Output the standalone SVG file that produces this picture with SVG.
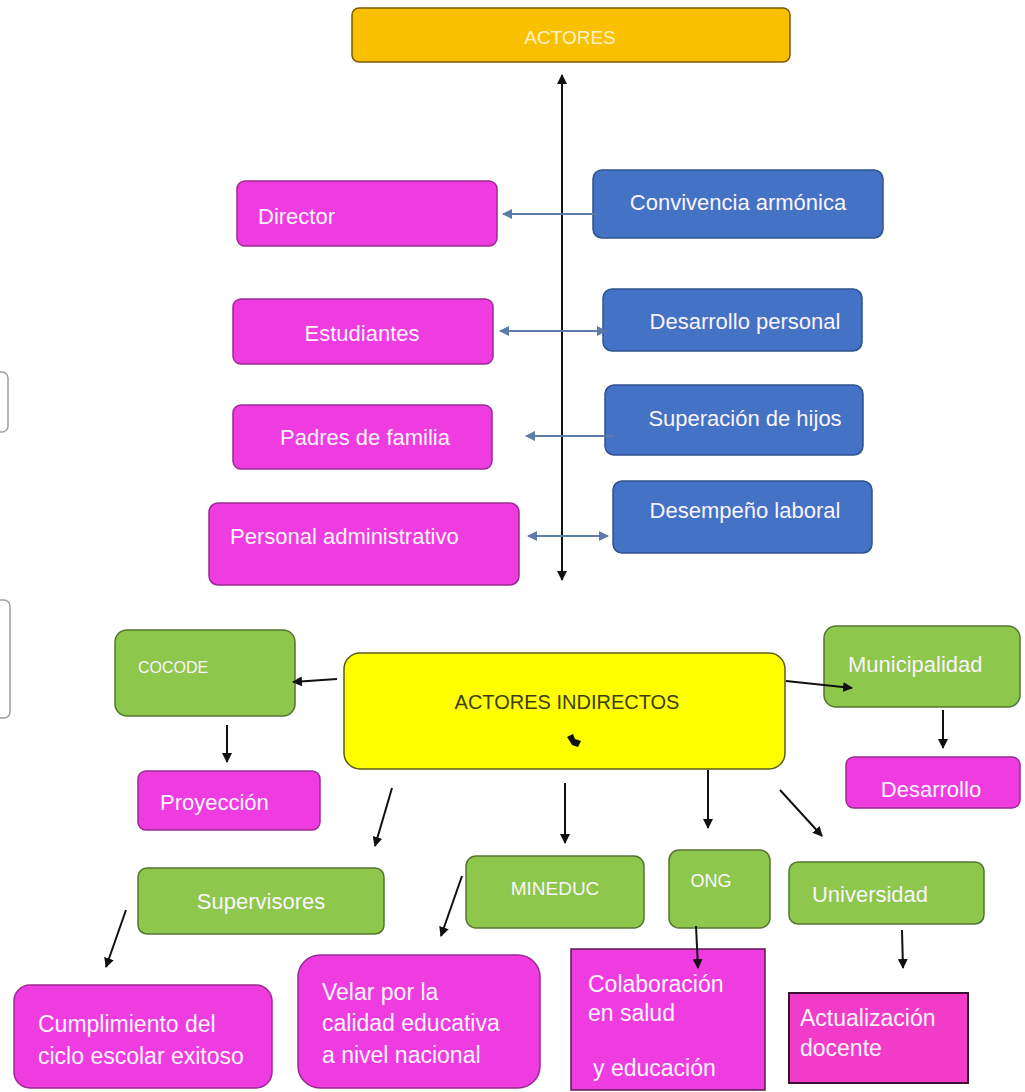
<svg xmlns="http://www.w3.org/2000/svg" width="1025" height="1092" viewBox="0 0 1025 1092">
<style>
text{font-family:"Liberation Sans",Arial,sans-serif;font-size:22px;fill:#fbf4ff}
.c{text-anchor:middle}
.s{font-size:23px}
.mag{fill:#ef3ce0;stroke:#9a2a93;stroke-width:1.5}
.blue{fill:#4472c4;stroke:#2f528f;stroke-width:1.5}
.grn{fill:#8dc74b;stroke:#55752f;stroke-width:1.5}
.k{stroke:#111;stroke-width:2;fill:none}
.b{stroke:#5b7ba8;stroke-width:2;fill:none}
.ghost{fill:#fff;stroke:#9aa0a6;stroke-width:1.5}
</style>
<defs>
<marker id="ak" viewBox="0 0 10 10" refX="9" refY="5" markerWidth="5" markerHeight="5" orient="auto-start-reverse"><path d="M0,0L10,5L0,10z" fill="#111"/></marker>
<marker id="ab" viewBox="0 0 10 10" refX="9" refY="5" markerWidth="5" markerHeight="5" orient="auto-start-reverse"><path d="M0,0L10,5L0,10z" fill="#5b7ba8"/></marker>
</defs>
<rect width="1025" height="1092" fill="#fff"/>

<g id="edge-boxes">
<rect class="ghost" x="-40" y="372" width="48" height="60" rx="6"/>
<rect class="ghost" x="-40" y="600" width="50" height="118" rx="6"/>
</g>

<g id="actores">
<rect x="352" y="8" width="438" height="54" rx="7" fill="#f9c000" stroke="#7a5a00" stroke-width="1.5"/>
<text class="c" x="570" y="44" style="font-size:19px;fill:#fff3c4">ACTORES</text>
</g>

<g id="director"><rect class="mag" x="237" y="181" width="260" height="65" rx="8"/><text x="258" y="224">Director</text></g>
<g id="convivencia"><rect class="blue" x="593" y="170" width="290" height="68" rx="9"/><text class="c" x="738" y="210">Convivencia armónica</text></g>
<g id="estudiantes"><rect class="mag" x="233" y="299" width="260" height="65" rx="8"/><text class="c" x="362" y="341">Estudiantes</text></g>
<g id="desarrollo-personal"><rect class="blue" x="603" y="289" width="259" height="62" rx="9"/><text class="c" x="745" y="329">Desarrollo personal</text></g>
<g id="padres"><rect class="mag" x="233" y="405" width="259" height="64" rx="8"/><text class="c" x="365" y="445">Padres de familia</text></g>
<g id="superacion"><rect class="blue" x="605" y="385" width="258" height="70" rx="9"/><text class="c" x="745" y="426">Superación de hijos</text></g>
<g id="personal-admin"><rect class="mag" x="209" y="503" width="310" height="82" rx="9"/><text x="230" y="544">Personal administrativo</text></g>
<g id="desempeno"><rect class="blue" x="613" y="481" width="259" height="72" rx="9"/><text class="c" x="745" y="518">Desempeño laboral</text></g>

<g id="actores-indirectos">
<rect x="344" y="653" width="441" height="116" rx="16" fill="#ffff00" stroke="#5c5c1a" stroke-width="1.5"/>
<text class="c" x="567" y="709" style="fill:#3d3d14;font-size:20px">ACTORES INDIRECTOS</text>
<path d="M567,737 l6,-3 l2,5 l6,2 l-3,6 l-6,-2 l-3,-5z" fill="#111"/>
</g>

<g id="cocode"><rect class="grn" x="115" y="630" width="180" height="86" rx="12"/><text x="138" y="673" style="font-size:16px">COCODE</text></g>
<g id="municipalidad"><rect class="grn" x="824" y="626" width="196" height="81" rx="12"/><text x="848" y="672">Municipalidad</text></g>
<g id="proyeccion"><rect class="mag" x="138" y="771" width="182" height="59" rx="8"/><text x="160" y="810">Proyección</text></g>
<g id="desarrollo"><rect class="mag" x="846" y="757" width="174" height="51" rx="8"/><text class="c" x="931" y="797">Desarrollo</text></g>

<g id="supervisores"><rect class="grn" x="138" y="868" width="246" height="66" rx="9"/><text class="c" x="261" y="909">Supervisores</text></g>
<g id="mineduc"><rect class="grn" x="466" y="856" width="178" height="72" rx="10"/><text class="c" x="555" y="895" style="font-size:19px">MINEDUC</text></g>
<g id="ong"><rect class="grn" x="669" y="850" width="101" height="78" rx="10"/><text class="c" x="711" y="887" style="font-size:18px">ONG</text></g>
<g id="universidad"><rect class="grn" x="789" y="862" width="195" height="62" rx="9"/><text class="c" x="870" y="902">Universidad</text></g>

<g id="cumplimiento"><rect class="mag" x="14" y="985" width="258" height="103" rx="16"/><text class="s" x="38" y="1032">Cumplimiento del</text><text class="s" x="38" y="1064">ciclo escolar exitoso</text></g>
<g id="velar"><rect class="mag" x="298" y="955" width="242" height="133" rx="22"/><text class="s" x="322" y="1000">Velar por la</text><text class="s" x="322" y="1031">calidad educativa</text><text class="s" x="322" y="1063">a nivel nacional</text></g>
<g id="colaboracion"><rect x="571" y="949" width="194" height="141" fill="#ef3ce0" stroke="#5a1a55" stroke-width="1.5"/><text class="s" x="588" y="992">Colaboración</text><text class="s" x="588" y="1021">en salud</text><text class="s" x="593" y="1076">y educación</text></g>
<g id="actualizacion"><rect x="789" y="993" width="179" height="90" fill="#f03cc8" stroke="#3a1030" stroke-width="2"/><text class="s" x="800" y="1026">Actualización</text><text class="s" x="800" y="1056">docente</text></g>

<g id="connectors">
<line class="k" x1="562" y1="75" x2="562" y2="580" marker-start="url(#ak)" marker-end="url(#ak)"/>
<line class="b" x1="503" y1="214" x2="598" y2="214" marker-start="url(#ab)"/>
<line class="b" x1="500" y1="331" x2="606" y2="331" marker-start="url(#ab)" marker-end="url(#ab)"/>
<line class="b" x1="614" y1="436" x2="526" y2="436" marker-end="url(#ab)"/>
<line class="b" x1="528" y1="536" x2="608" y2="536" marker-start="url(#ab)" marker-end="url(#ab)"/>
<line class="k" x1="337" y1="679" x2="293" y2="682" marker-end="url(#ak)"/>
<line class="k" x1="786" y1="681" x2="852" y2="688" marker-end="url(#ak)"/>
<line class="k" x1="227" y1="725" x2="227" y2="762" marker-end="url(#ak)"/>
<line class="k" x1="943" y1="710" x2="943" y2="748" marker-end="url(#ak)"/>
<line class="k" x1="392" y1="788" x2="375" y2="846" marker-end="url(#ak)"/>
<line class="k" x1="565" y1="783" x2="565" y2="843" marker-end="url(#ak)"/>
<line class="k" x1="708" y1="770" x2="708" y2="828" marker-end="url(#ak)"/>
<line class="k" x1="780" y1="790" x2="822" y2="836" marker-end="url(#ak)"/>
<line class="k" x1="126" y1="910" x2="106" y2="967" marker-end="url(#ak)"/>
<line class="k" x1="462" y1="876" x2="441" y2="936" marker-end="url(#ak)"/>
<line class="k" x1="696" y1="926" x2="698" y2="968" marker-end="url(#ak)"/>
<line class="k" x1="902" y1="930" x2="903" y2="968" marker-end="url(#ak)"/>
</g>
</svg>
